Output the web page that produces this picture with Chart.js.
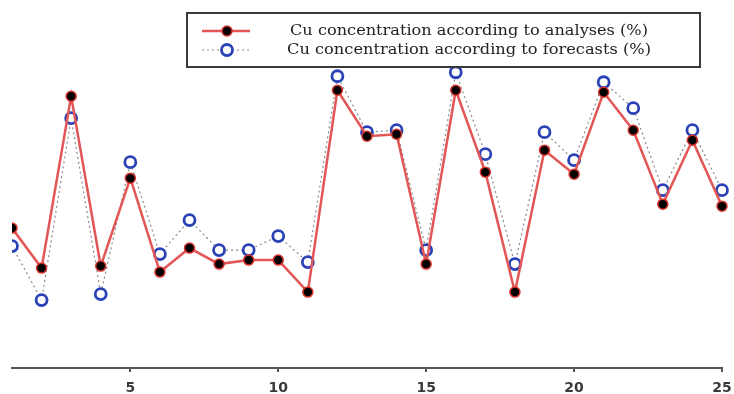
<!DOCTYPE html>
<html>
<head>
<meta charset="utf-8">
<script src="https://cdn.jsdelivr.net/npm/chart.js@4/dist/chart.umd.min.js"></script>
<style>
  html, body { margin: 0; padding: 0; background: #fff; }
  #wrap { width: 734px; height: 394px; }
</style>
</head>
<body>
<div id="wrap"><canvas id="chartCu" width="734" height="394"></canvas></div>
<script>
// ==========================================
// DATOS
// ==========================================
const muestras = [1, 2, 3, 4, 5, 6, 7, 8, 9, 10, 11, 12, 13, 14, 15, 16, 17, 18, 19, 20, 21, 22, 23, 24, 25];
const cuAnalisis = [0.70, 0.50, 1.36, 0.51, 0.95, 0.48, 0.60, 0.52, 0.54, 0.54, 0.38, 1.39, 1.16, 1.17, 0.52, 1.39, 0.98, 0.38, 1.09, 0.97, 1.38, 1.19, 0.82, 1.14, 0.81];
const cuPronostico = [0.61, 0.34, 1.25, 0.37, 1.03, 0.57, 0.74, 0.59, 0.59, 0.66, 0.53, 1.46, 1.18, 1.19, 0.59, 1.48, 1.07, 0.52, 1.18, 1.04, 1.43, 1.30, 0.89, 1.19, 0.89];
const ticksX = [5, 10, 15, 20, 25];
const etiquetas = ['Cu concentration according to analyses (%)', 'Cu concentration according to forecasts (%)'];

const aPuntos = (vals) => muestras.map((m, i) => ({ x: m, y: vals[i] }));

// leyenda con caja, dibujada a mano
const leyendaCaja = {
    id: 'leyendaCaja',
    afterDraw(chart) {
        const ctx = chart.ctx;
        ctx.save();
        ctx.fillStyle = '#fff';
        ctx.fillRect(187, 13, 513, 54);
        ctx.strokeStyle = '#3a3a3a';
        ctx.lineWidth = 2;
        ctx.strokeRect(187, 13, 513, 54);

        chart.data.datasets.forEach((ds, i) => {
            const y = 31 + i * 19;
            ctx.beginPath();
            ctx.setLineDash(ds.borderDash || []);
            ctx.strokeStyle = ds.borderColor;
            ctx.lineWidth = ds.borderWidth;
            ctx.moveTo(202, y);
            ctx.lineTo(250, y);
            ctx.stroke();
            ctx.setLineDash([]);

            ctx.beginPath();
            ctx.arc(227, y, ds.pointRadius, 0, Math.PI * 2);
            ctx.fillStyle = ds.pointBackgroundColor;
            ctx.fill();
            ctx.lineWidth = ds.pointBorderWidth;
            ctx.strokeStyle = ds.pointBorderColor;
            ctx.stroke();

            // texto estirado a lo ancho, como en la figura original
            ctx.fillStyle = '#222';
            ctx.font = '14px "DejaVu Serif"';
            ctx.textAlign = 'center';
            ctx.textBaseline = 'middle';
            const ancho = ctx.measureText(ds.label).width;
            const escala = (i === 0 ? 358 : 364) / ancho;
            ctx.save();
            ctx.translate(469, y);
            ctx.scale(escala, 1);
            ctx.fillText(ds.label, 0, 0);
            ctx.restore();
        });
        ctx.restore();
    }
};

const recorte = { left: 0, top: 30, right: 30, bottom: 30 };

new Chart(document.getElementById('chartCu').getContext('2d'), {
    type: 'line',
    data: {
        datasets: [
            {
                label: etiquetas[0],
                data: aPuntos(cuAnalisis),
                borderColor: '#e25656',
                borderWidth: 2.5,
                pointRadius: 5,
                pointBackgroundColor: '#000',
                pointBorderColor: '#d8342f',
                pointBorderWidth: 1.5,
                tension: 0,
                order: 1,
                clip: recorte
            },
            {
                label: etiquetas[1],
                data: aPuntos(cuPronostico),
                borderColor: '#8a8a8a',
                borderWidth: 1.2,
                borderDash: [2, 3],
                pointRadius: 5.5,
                pointBackgroundColor: '#fff',
                pointBorderColor: '#2a42b5',
                pointBorderWidth: 2.8,
                tension: 0,
                order: 2,
                clip: recorte
            }
        ]
    },
    options: {
        responsive: false,
        animation: false,
        devicePixelRatio: 1,
        layout: { padding: { left: 12, right: 12, top: 8, bottom: 0 } },
        plugins: { legend: { display: false }, tooltip: { enabled: false } },
        scales: {
            x: {
                type: 'linear',
                min: 1,
                max: 25,
                afterBuildTicks: (axis) => { axis.ticks = ticksX.map(v => ({ value: v })); },
                afterFit: (axis) => {
                    axis.height = 26;
                    axis.paddingLeft = 0;
                    axis.paddingRight = 0;
                },
                grid: { display: true, drawOnChartArea: false, drawTicks: true, tickLength: 4, color: '#555', lineWidth: 2 },
                border: { display: true, color: '#555', width: 2 },
                ticks: {
                    padding: 8,
                    color: '#3a3a3a',
                    font: { family: '"DejaVu Sans", sans-serif', size: 14, weight: 'bold' }
                }
            },
            y: { display: false, min: 0, max: 1.8 }
        }
    },
    plugins: [leyendaCaja]
});
</script>
</body>
</html>
